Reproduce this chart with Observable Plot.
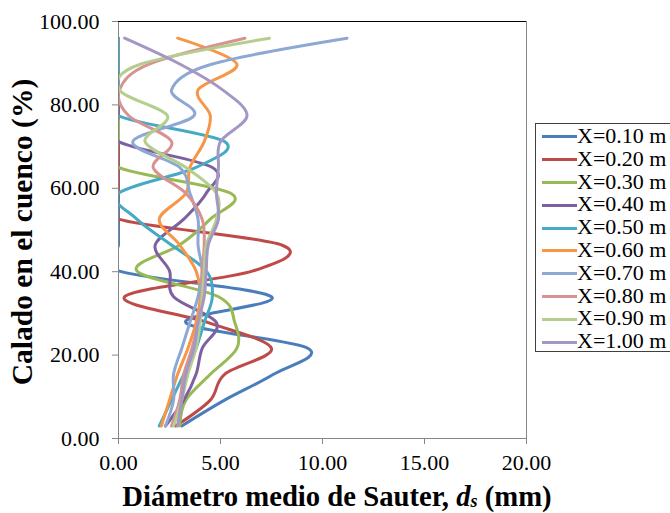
<!DOCTYPE html>
<html>
<head>
<meta charset="utf-8">
<script src="https://cdn.jsdelivr.net/npm/d3@7"></script>
<script src="https://cdn.jsdelivr.net/npm/@observablehq/plot@0.6"></script>
<style>
  html, body { margin: 0; padding: 0; background: #fff; overflow: hidden; }
  #wrap { position: relative; width: 670px; height: 513px; font-family: "Liberation Serif", "Times New Roman", serif; color: #000; }
  #chart { position: absolute; left: 0; top: 0; }
  #chart svg text { font-family: "Liberation Serif", "Times New Roman", serif !important; }
  #ylab { position: absolute; left: -178px; top: 217px; width: 400px; height: 30px; line-height: 30px;
          font-family: "Liberation Serif", "Times New Roman", serif;
          font-size: 29.5px; font-weight: bold; text-align: center; transform: rotate(-90deg); white-space: nowrap; }
  #xlab { position: absolute; left: 67px; top: 481px; width: 540px; height: 30px; line-height: 30px;
          font-family: "Liberation Serif", "Times New Roman", serif;
          font-size: 28.7px; font-weight: bold; text-align: center; white-space: nowrap; }
  #xlab sub { font-size: 18px; line-height: 0; vertical-align: -1px; font-style: italic; }
  #legend { position: absolute; left: 535px; top: 123px; width: 150px; height: 229px; box-sizing: border-box;
            border: 1px solid #404040; background: #fff; padding: 1px 0 0 6px; }
  .row { height: 22.8px; line-height: 22.8px; font-size: 22px; white-space: nowrap; }
  .sw { display: inline-block; width: 35px; height: 3px; vertical-align: middle; margin-top: -2px; }
</style>
</head>
<body>
<div id="wrap">
  <div id="chart"></div>
  <div id="ylab">Calado en el cuenco (%)</div>
  <div id="xlab">Diámetro medio de Sauter, <i>d</i><sub>s</sub> (mm)</div>
  <div id="legend"></div>
</div>
<script>
// Heights (% of bowl depth) at which diameters were measured
const heights = [3.0, 9.2, 15.4, 21.6, 27.8, 34.0, 40.2, 46.4, 52.6, 58.8, 65.0, 71.2, 77.4, 83.6, 89.8, 96.0];

// Sauter mean diameter (mm) per section X
const x010 = [3.1, 5.2, 7.6, 9.3, 3.3, 7.5, 0, 0, 0, 0, 0, 0, 0, 0, 0, 0];
const x020 = [2.8, 4.5, 5.2, 7.5, 4.4, 0.3, 6.6, 8.0, 0, 0, 0, 0, 0, 0, 0, 0];
const x030 = [3.0, 3.3, 4.5, 5.8, 5.7, 4.9, 0.9, 3.0, 4.5, 5.5, 0, 0, 0, 0, 0, 0];
const x040 = [2.3, 3.2, 3.8, 4.1, 4.8, 2.7, 2.5, 1.8, 3.2, 4.3, 4.6, 0, 0, 0, 0, 0];
const x050 = [2.0, 2.6, 3.2, 3.8, 4.2, 4.6, 4.3, 2.6, 0.9, 0, 3.8, 5.2, 0, 0, 0, 0];
const x060 = [2.1, 2.5, 2.9, 3.4, 3.8, 4.0, 3.8, 3.0, 2.0, 3.3, 3.5, 4.2, 4.5, 3.9, 5.8, 2.9];
const x070 = [2.3, 2.7, 2.7, 3.1, 3.5, 3.9, 4.1, 3.9, 3.9, 3.5, 3.0, 0.7, 3.7, 2.6, 4.6, 11.2];
const x080 = [2.6, 3.0, 3.2, 3.6, 3.9, 4.1, 4.1, 4.2, 4.1, 3.3, 1.7, 2.6, 0.5, 0.05, 1.5, 6.2];
const x090 = [2.7, 3.1, 3.4, 3.8, 4.0, 4.1, 4.2, 4.3, 4.8, 4.8, 3.3, 1.3, 2.4, 0.05, 1.1, 7.4];
const x100 = [2.9, 3.1, 3.3, 3.7, 3.9, 4.2, 4.3, 4.4, 4.9, 4.8, 4.9, 5.0, 6.3, 5.1, 3.0, 0.3];

const seriesNames = ["X=0.10 m", "X=0.20 m", "X=0.30 m", "X=0.40 m", "X=0.50 m",
                     "X=0.60 m", "X=0.70 m", "X=0.80 m", "X=0.90 m", "X=1.00 m"];
const seriesValues = [x010, x020, x030, x040, x050, x060, x070, x080, x090, x100];
const seriesColors = ["#4A7EBB", "#BE4B48", "#98B954", "#7D60A0", "#46AAC5",
                      "#F79646", "#8EA8D4", "#D69391", "#B4CE8E", "#A597C4"];

const xTicks = [0, 5, 10, 15, 20];
const yTicks = [0, 20, 40, 60, 80, 100];

const fmt = d3.format(".2f");

const lineMarks = seriesValues.map((vals, i) =>
  Plot.line(heights.map((h, j) => ({h, d: vals[j]})), {
    x: "d", y: "h",
    stroke: seriesColors[i], strokeWidth: 3,
    curve: "cardinal", clip: true,
    strokeLinejoin: "round", strokeLinecap: "round"
  })
);

const chart = Plot.plot({
  width: 670, height: 513,
  marginLeft: 118, marginRight: 144, marginTop: 21, marginBottom: 75,
  style: {fontFamily: "Liberation Serif, serif", fontSize: "22px", background: "white", color: "#000"},
  x: {domain: [0, 20], label: null},
  y: {domain: [0, 100], label: null},
  marks: [
    ...lineMarks,
    Plot.frame({stroke: "#868686"}),
    Plot.ruleY([100], {stroke: "#000"}),
    Plot.axisX({ticks: xTicks, tickFormat: fmt, tickSize: 6, tickPadding: 10, stroke: "#868686", fill: "#000", label: null, fontSize: 22}),
    Plot.axisY({ticks: yTicks, tickFormat: fmt, tickSize: 6, tickPadding: 13, stroke: "#868686", fill: "#000", label: null, fontSize: 22})
  ]
});
document.getElementById("chart").appendChild(chart);

const legend = document.getElementById("legend");
seriesNames.forEach((name, i) => {
  const row = document.createElement("div");
  row.className = "row";
  const sw = document.createElement("span");
  sw.className = "sw";
  sw.style.background = seriesColors[i];
  row.appendChild(sw);
  row.appendChild(document.createTextNode(name));
  legend.appendChild(row);
});
</script>
</body>
</html>
